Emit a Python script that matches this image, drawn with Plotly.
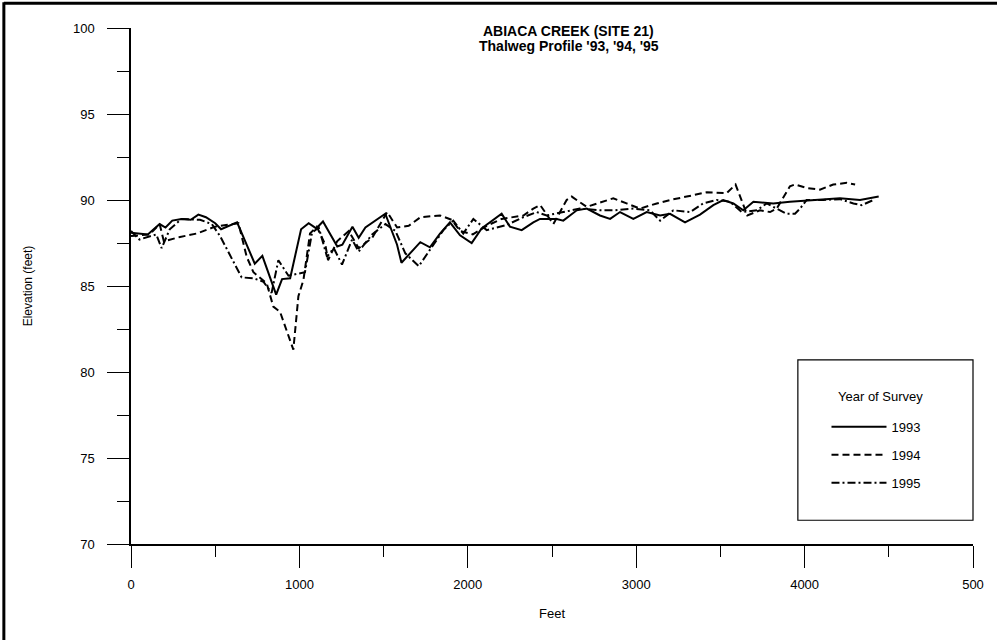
import plotly.graph_objects as go

# 1993 survey (solid)
feet_93 = [0, 100, 170, 205, 245, 300, 355, 400, 445, 500, 535, 630, 735, 780, 862, 897, 945,
           1010, 1055, 1100, 1140, 1225, 1255, 1315, 1352, 1392, 1510, 1580, 1606, 1660, 1718,
           1775, 1835, 1894, 1954, 2023, 2082, 2201, 2250, 2320, 2389, 2429, 2528, 2567, 2647,
           2706, 2785, 2845, 2904, 2983, 3062, 3142, 3201, 3290, 3379, 3458, 3517, 3577, 3636,
           3696, 3814, 3913, 4052, 4210, 4329, 4440]
elev_93 = [88.1, 88.0, 88.6, 88.4, 88.8, 88.9, 88.85, 89.15, 89.0, 88.65, 88.3, 88.7, 86.3, 86.75,
           84.5, 85.4, 85.45, 88.3, 88.65, 88.35, 88.75, 87.3, 87.4, 88.45, 87.8, 88.4, 89.2,
           87.4, 86.35, 86.9, 87.55, 87.25, 88.05, 88.7, 87.95, 87.5, 88.35, 89.2, 88.45, 88.25,
           88.7, 88.9, 88.9, 88.8, 89.4, 89.5, 89.1, 88.9, 89.3, 88.9, 89.3, 89.1, 89.2, 88.7,
           89.15, 89.7, 90.0, 89.8, 89.4, 89.9, 89.8, 89.9, 90.0, 90.1, 90.0, 90.2]

# 1994 survey (dashed)
feet_94 = [0, 110, 170, 195, 291, 390, 499, 638, 687, 727, 806, 845, 885, 964, 994, 1024, 1063,
           1103, 1154, 1170, 1224, 1293, 1352, 1432, 1521, 1580, 1649, 1719, 1835, 1904, 1954,
           2030, 2112, 2201, 2330, 2389, 2430, 2508, 2587, 2617, 2706, 2864, 2943, 3022, 3122,
           3201, 3300, 3419, 3537, 3590, 3660, 3735, 3795, 3834, 3913, 3943, 4012, 4091, 4170,
           4250, 4300]
elev_94 = [87.9, 88.0, 88.6, 87.6, 87.85, 88.05, 88.45, 88.65, 86.7, 85.8, 85.15, 83.8, 83.5,
           81.3, 84.4, 85.35, 88.05, 88.45, 87.4, 86.5, 87.6, 88.2, 87.2, 87.8, 89.3, 88.4,
           88.5, 89.0, 89.1, 88.85, 88.2, 88.0, 88.5, 88.9, 89.1, 89.5, 89.7, 88.6, 90.0, 90.2,
           89.6, 90.1, 89.8, 89.5, 89.8, 90.0, 90.2, 90.45, 90.4, 90.9, 89.1, 89.4, 89.3, 89.5,
           90.8, 90.9, 90.7, 90.6, 90.9, 91.0, 90.9]

# 1995 survey (dash-dot)
feet_95 = [0, 50, 150, 182, 230, 300, 410, 480, 529, 657, 727, 786, 835, 875, 935, 1033, 1075,
           1115, 1164, 1204, 1253, 1313, 1352, 1432, 1511, 1570, 1629, 1709, 1775, 1855, 1914,
           1973, 2033, 2112, 2231, 2330, 2409, 2468, 2567, 2666, 2785, 2864, 2983, 3082, 3142,
           3221, 3320, 3398, 3478, 3557, 3626, 3716, 3775, 3834, 3893, 3943, 3973, 4012, 4111,
           4210, 4290, 4339, 4408]
elev_95 = [88.2, 87.7, 88.0, 87.2, 88.3, 88.9, 88.85, 88.6, 87.9, 85.5, 85.45, 85.25, 84.6, 86.5,
           85.6, 85.8, 88.1, 88.4, 86.7, 87.2, 86.25, 87.7, 87.0, 88.0, 88.6, 88.2, 86.9, 86.15,
           87.1, 88.25, 88.8, 88.05, 88.9, 88.25, 88.55, 89.0, 89.3, 89.1, 89.3, 89.5, 89.4,
           89.4, 89.5, 89.4, 88.8, 89.4, 89.3, 89.8, 90.0, 89.9, 89.3, 89.4, 89.8, 89.5, 89.2,
           89.2, 89.5, 90.0, 90.0, 90.05, 89.8, 89.7, 90.0]

years = ["1993", "1994", "1995"]
x_tickvals = [0, 1000, 2000, 3000, 4000, 5000]
x_ticktext = ["0", "1000", "2000", "3000", "4000", "500"]
y_tickvals = [70, 75, 80, 85, 90, 95, 100]

FONT = "Liberation Sans, Arial, sans-serif"

fig = go.Figure()
series = [(feet_93, elev_93, "solid"), (feet_94, elev_94, "7px,4px"), (feet_95, elev_95, "8px,3px,2px,3px")]
for (fx, ey, dash), yr in zip(series, years):
    fig.add_trace(go.Scatter(
        x=fx, y=ey, mode="lines", name=yr, legendgroup=yr,
        line=dict(color="black", width=2, dash=dash),
    ))

fig.update_layout(
    width=997, height=640,
    margin=dict(l=131, r=24, t=28, b=96),
    paper_bgcolor="white", plot_bgcolor="white",
    font=dict(family=FONT, size=13, color="black"),
    showlegend=True,
    legend=dict(
        x=0.826, y=0.256, xanchor="left", yanchor="top",
        bgcolor="rgba(0,0,0,0)", borderwidth=0,
        itemwidth=55, tracegroupgap=8, font=dict(size=13),
    ),
    annotations=[
        dict(text="<b>ABIACA CREEK (SITE 21)</b>", xref="paper", yref="paper",
             x=0.52, y=(544 - 31) / 516, xanchor="center", yanchor="middle",
             showarrow=False, font=dict(size=14, family=FONT)),
        dict(text="<b>Thalweg Profile '93, '94, '95</b>", xref="paper", yref="paper",
             x=0.52, y=(544 - 46) / 516, xanchor="center", yanchor="middle",
             showarrow=False, font=dict(size=14, family=FONT)),
        dict(text="Year of Survey", xref="paper", yref="paper", x=0.89, y=0.285,
             xanchor="center", yanchor="middle", showarrow=False, font=dict(size=13)),
    ],
    shapes=[
        # legend frame
        dict(type="rect", xref="paper", yref="paper", x0=0.792, x1=1.0, y0=0.046, y1=0.357,
             line=dict(color="black", width=1.2)),
        # page border (left and top)
        dict(type="line", xref="paper", yref="paper", x0=-0.151, x1=-0.151, y0=-0.19, y1=1.05,
             line=dict(color="black", width=3)),
        dict(type="line", xref="paper", yref="paper", x0=-0.151, x1=1.04, y0=1.048, y1=1.048,
             line=dict(color="black", width=3)),
    ],
)

fig.update_xaxes(
    range=[0, 5000], tickvals=x_tickvals, ticktext=x_ticktext,
    showline=True, linecolor="black", linewidth=1.5, showgrid=False, zeroline=False,
    ticks="outside", ticklen=22, tickwidth=1.2, tickcolor="black", ticklabelstandoff=6,
    minor=dict(ticks="outside", ticklen=11, dtick=500, tickcolor="black", tickwidth=1.2),
    title=dict(text="Feet", font=dict(size=13), standoff=18),
)
fig.update_yaxes(
    range=[70, 100], tickvals=y_tickvals,
    showline=True, linecolor="black", linewidth=1.5, showgrid=False, zeroline=False,
    ticks="outside", ticklen=22, tickwidth=1.2, tickcolor="black", ticklabelstandoff=10,
    minor=dict(ticks="outside", ticklen=12, dtick=2.5, tickcolor="black", tickwidth=1.2),
    title=dict(text="Elevation (feet)", font=dict(size=12), standoff=38),
)

# drop the browser's default body margin so the figure sits at the page origin
fig.write_html("out.html", config={"displayModeBar": False},
               post_script="document.body.style.margin='0';")
